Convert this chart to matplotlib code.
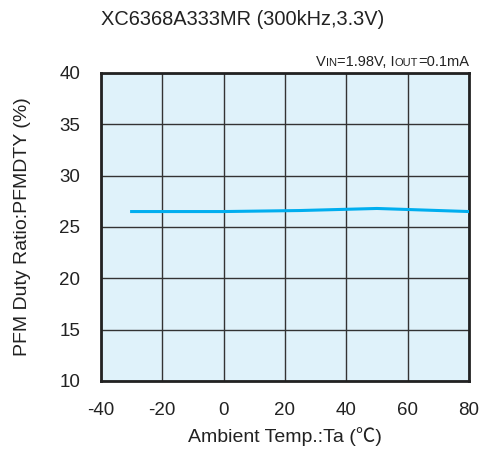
import matplotlib.pyplot as plt
import numpy as np

temps = [-30, -20, 0, 25, 50, 80]
duty = [26.5, 26.5, 26.5, 26.6, 26.8, 26.5]

xticks = [-40, -20, 0, 20, 40, 60, 80]
yticks = [10, 15, 20, 25, 30, 35, 40]

plt.rcParams['font.family'] = ['Liberation Sans', 'DejaVu Sans']
plt.rcParams['axes.unicode_minus'] = False

fig = plt.figure(figsize=(4.83, 4.53), dpi=100)
ax = fig.add_axes([0.209, 0.159, 0.762, 0.680])
ax.set_facecolor('#dff2fa')

ax.plot(temps, duty, color='#00aeef', lw=2.2, zorder=3)

ax.set_xlim(-40, 80)
ax.set_ylim(10, 40)
ax.set_xticks(xticks)
ax.set_yticks(yticks)
ax.grid(True, color='#333333', lw=1.0)
ax.set_axisbelow(True)
for s in ax.spines.values():
    s.set_linewidth(2.0)
    s.set_color('#222222')
ax.tick_params(length=0, labelsize=13.5, colors='#222222')
ax.tick_params(axis='x', pad=15)
ax.tick_params(axis='y', pad=15)

ax.set_xlabel('Ambient Temp.:Ta (℃)', fontsize=14, labelpad=6, color='#222222',
              family=['Liberation Sans', 'Noto Sans CJK JP', 'DejaVu Sans'])
ax.set_ylabel('PFM Duty Ratio:PFMDTY (%)', fontsize=14, labelpad=20, color='#222222')

fig.text(0.502, 0.956, 'XC6368A333MR (300kHz,3.3V)', ha='center', va='center',
         fontsize=14.4, color='#222222')

# condition note, small capitals for the subscripts
parts = [('V', 10.5), ('IN', 8), ('=1.98V, I', 10.5), ('OUT', 8), ('=0.1mA', 10.5)]
fig.canvas.draw()
r = fig.canvas.get_renderer()
items = [fig.text(0, 0.854, s, fontsize=fs, color='#222222', va='baseline') for s, fs in parts]
widths = [t.get_window_extent(r).width / fig.bbox.width for t in items]
x = 0.971 - sum(widths)
for t, w in zip(items, widths):
    t.set_x(x)
    x += w

fig.savefig('out.png', dpi=100)
